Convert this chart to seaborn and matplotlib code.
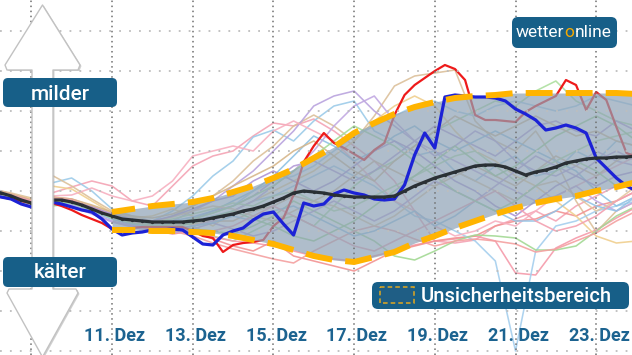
import numpy as np
import pandas as pd
import matplotlib
matplotlib.use("Agg")
import matplotlib.pyplot as plt
import seaborn as sns
from matplotlib.patches import FancyBboxPatch, Polygon, Rectangle
from matplotlib.transforms import blended_transform_factory

sns.set_theme(style="white")
plt.rcParams["font.family"] = ["Roboto", "DejaVu Sans"]

# ---------------- data ----------------
# time axis in days of December (6-hourly for the main runs, 12-hourly for members)
t6 = np.arange(8, 24.001, 0.25)
t12 = np.arange(8, 24.001, 0.5)
t_band = np.arange(11, 24.001, 0.5)

mean_run = [0.1, -0.2, -0.5, -0.9, -1.2, -1.0, -0.9, -0.9, -1.1, -1.4,
            -1.8, -2.2, -2.5, -2.8, -2.9, -3.0, -3.1, -3.1, -3.1, -3.1,
            -3.0, -2.9, -2.7, -2.5, -2.3, -2.0, -1.8, -1.5, -1.1, -0.7,
            -0.2, 0.0, -0.1, -0.2, -0.4, -0.5, -0.6, -0.6, -0.6, -0.6,
            -0.5, 0.0, 0.5, 0.9, 1.3, 1.6, 1.9, 2.2, 2.5, 2.6,
            2.6, 2.4, 2.0, 1.6, 1.9, 2.1, 2.4, 2.8, 3.0, 3.2,
            3.3, 3.3, 3.4, 3.4, 3.5]

blue_run = [-0.4, -0.6, -0.8, -1.3, -1.6, -1.3, -1.1, -1.3, -1.6, -1.9,
            -2.1, -2.8, -3.8, -4.4, -4.2, -4.1, -3.9, -3.9, -3.8, -3.9,
            -4.6, -5.3, -5.4, -4.4, -4.0, -3.7, -2.9, -2.3, -2.1, -3.3,
            -4.4, -1.2, -1.5, -1.3, -0.3, 0.1, -0.2, -0.4, -0.8, -0.9,
            -0.8, 0.6, 3.6, 5.8, 4.3, 9.4, 9.6, 9.5, 9.4, 9.4,
            9.3, 9.0, 8.2, 7.7, 7.1, 6.1, 6.3, 6.6, 6.3, 5.8,
            3.3, 2.3, 1.3, 0.5, 0.0]

red_run = [-0.4, -0.6, -0.8, -1.0, -1.2, -1.2, -1.2, -1.5, -1.9, -2.4,
           -2.8, -3.2, -3.8, -3.9, -3.7, -3.6, -3.6, -3.6, -3.6, -3.6,
           -4.0, -4.5, -4.7, -6.1, -5.4, -5.2, -5.1, -4.9, -3.5, -2.7,
           -0.4, 2.9, 4.5, 5.8, 4.8, 4.3, 3.7, 3.1, 4.1, 4.8,
           7.6, 9.6, 10.6, 11.3, 12.0, 12.6, 12.2, 11.1, 7.6, 7.1,
           7.1, 7.0, 6.9, 7.9, 8.5, 9.0, 9.5, 11.1, 10.6, 8.1,
           9.9, 9.1, 6.4, 3.8, 3.4]

members = {
    "m01": [0.3, -0.3, -0.9, -0.2, 0.4, 1.0, 0.5, -1.0, -1.5, 0.5, 2.5, 3.5, 4.0, 5.5, 6.8, 6.5, 7.2, 6.0, 4.5, 3.0, 1.0, -2.0, -5.0, -5.2, -4.9, -3.5, -2.8, -2.0, -3.0, -1.5, -0.5, 0.5, 1.0],
    "m02": [0.1, -0.4, -1.0, 0.8, 1.3, 0.0, -1.8, -2.5, -3.0, -2.0, -0.5, 1.5, 3.0, 5.4, 6.1, 5.0, 7.0, 8.5, 9.0, 6.0, 5.0, 3.5, 4.0, 2.0, 1.0, 2.5, 3.5, 1.5, 2.0, 4.0, 3.0, 5.0, 4.5],
    "m03": [0.2, -0.2, -0.7, 1.6, 0.5, -0.8, -2.0, -2.8, -3.2, -2.5, -1.5, -0.5, 1.0, 3.0, 4.5, 6.5, 7.6, 6.5, 5.0, 7.5, 10.5, 11.5, 11.8, 12.1, 7.0, 5.0, 4.0, 6.0, 3.0, -1.0, -4.1, -2.0, -1.0],
    "m04": [0.0, -0.6, -1.5, -0.8, -1.2, -2.0, -2.8, -3.2, -3.5, -4.0, -3.5, -4.5, -5.0, -4.0, -3.0, -2.5, -3.5, -1.5, 0.5, 2.0, 3.0, 4.5, 6.0, 7.0, 8.0, 9.0, 8.5, 10.0, 11.0, 9.0, 8.0, 7.0, 6.5],
    "m05": [0.0, -0.5, -1.2, -1.0, -1.5, -2.2, -3.0, -3.5, -3.8, -3.0, -2.0, -1.0, 0.5, 2.0, 4.0, 6.0, 8.5, 9.5, 10.0, 8.0, 6.5, 5.0, 3.5, 4.5, 6.0, 5.0, 3.0, 2.0, 1.5, 2.5, 4.0, 3.0, 2.5],
    "m06": [0.1, -0.5, -1.2, -0.9, -1.0, -1.6, -2.3, -3.0, -3.4, -3.8, -4.2, -4.6, -5.0, -5.2, -5.5, -6.0, -6.5, -6.8, -7.0, -6.5, -6.0, -5.4, -5.0, -4.8, -4.5, -5.0, -8.2, -8.4, -5.7, -4.7, -3.9, -2.7, -1.6],
    "m07": [0.2, -0.4, -1.0, -0.6, -0.8, -1.5, -2.6, -3.4, -3.9, -4.3, -4.0, -4.8, -5.5, -6.0, -5.0, -6.5, -7.0, -7.5, -8.0, -7.0, -6.0, -5.5, -5.0, -4.7, -4.5, -3.5, -3.0, -2.8, -2.0, -2.5, -1.5, -1.0, 0.0],
    "m08": [0.0, -0.5, -1.1, -0.7, -1.0, -1.7, -2.4, -2.9, -3.3, -3.6, -3.0, -2.5, -2.0, -1.0, -0.5, 0.5, 1.5, 2.5, 1.5, 0.5, -1.0, -2.5, -3.0, -4.0, -5.0, -7.0, -16.0, -6.0, -3.5, -3.0, -2.0, -1.5, -1.0],
    "m09": [0.2, -0.3, -0.8, 0.5, 0.2, -1.0, -2.2, -2.7, -2.5, -1.8, -2.5, -3.5, -2.0, -1.0, 0.0, 1.0, 2.0, 3.5, 5.0, 7.0, 8.5, 9.5, 8.5, 6.0, 4.0, 3.0, 1.5, 0.5, -1.0, -2.5, -4.5, -5.2, -5.0],
    "m10": [0.0, -0.7, -1.6, -1.5, -1.3, -1.9, -2.7, -3.1, -3.3, -3.5, -3.8, -4.0, -4.3, -3.5, -2.5, -1.0, -2.0, -3.0, -4.0, -5.0, -6.5, -6.9, -6.0, -5.0, -4.4, -4.5, -4.7, -5.9, -5.9, -5.5, -4.0, -2.5, -1.5],
    "m11": [0.1, -0.4, -1.3, -1.1, -1.2, -2.0, -2.7, -3.3, -3.6, -3.2, -2.8, -2.0, -1.5, -0.5, 1.0, 2.5, 3.0, 2.0, 1.0, 2.0, 3.5, 5.0, 6.5, 5.5, 4.5, 3.5, 5.0, 6.5, 7.0, 6.0, 5.5, 7.0, 6.0],
    "m12": [0.2, -0.3, -0.9, -0.5, -0.4, 0.3, -0.5, -1.0, -0.5, 1.0, 3.5, 4.0, 4.5, 4.0, 6.0, 7.0, 6.0, 5.0, 3.0, 1.0, -1.0, -2.0, -3.5, -4.5, -4.0, -3.0, -3.5, -2.0, -0.5, 0.5, 1.5, 2.5, 3.5],
    "m13": [0.1, -0.6, -1.2, -1.0, -1.3, -2.0, -2.6, -3.0, -3.3, -3.0, -2.6, -2.0, -1.0, 0.0, 1.5, 3.5, 5.5, 4.5, 3.0, 4.0, 5.5, 6.5, 5.0, 4.0, 5.0, 6.0, 5.0, 4.0, 3.0, 2.0, 0.0, -1.5, -0.5],
    "m14": [0.0, -0.5, -1.1, -0.9, -1.1, -1.8, -2.5, -3.0, -3.2, -3.4, -3.3, -3.0, -3.0, -2.0, -1.5, -0.5, -1.0, 0.0, 1.5, 3.0, 2.0, 1.0, 0.5, 1.5, 2.5, 1.5, 0.5, 2.0, 3.5, 2.5, 1.5, 3.0, 4.0],
    "m15": [0.0, -0.6, -1.3, -1.2, -1.4, -2.1, -2.8, -3.4, -3.6, -3.9, -3.5, -3.0, -2.0, -1.0, 0.5, 2.0, 4.0, 6.5, 8.5, 9.5, 7.0, 5.0, 4.0, 3.0, 2.0, 1.0, 0.0, -1.0, -0.5, 0.5, -1.0, -2.0, -1.0],
    "m16": [0.1, -0.5, -1.0, -0.7, -1.1, -1.7, -2.4, -2.8, -3.1, -2.8, -2.3, -1.8, -1.2, -1.5, -0.5, 0.0, -1.0, -2.0, -1.5, -0.5, 0.5, 1.5, 2.5, 3.5, 4.0, 2.5, 1.0, 2.0, 3.0, 4.0, 5.0, 5.5, 6.0],
    "m17": [0.1, -0.4, -1.1, -0.8, -1.0, -1.6, -2.4, -3.2, -3.6, -4.0, -4.5, -5.2, -5.8, -6.3, -6.8, -7.2, -6.0, -5.0, -4.0, -3.5, -4.0, -4.8, -5.5, -5.0, -4.8, -5.0, -5.3, -6.1, -5.8, -5.0, -4.2, -3.0, -2.0],
    "m18": [0.0, -0.5, -1.0, -0.9, -1.2, -1.9, -2.6, -3.1, -3.4, -3.2, -2.8, -2.2, -1.5, 0.0, 1.0, 1.5, 2.5, 4.0, 5.5, 6.5, 7.5, 8.5, 9.0, 8.0, 7.5, 8.5, 9.0, 8.5, 8.0, 8.5, 9.5, 9.0, 8.5],
    "m19": [0.1, -0.4, -1.0, -0.6, -0.9, -1.5, -2.2, -2.6, -3.0, -2.6, -2.0, -1.5, -1.8, -2.5, -3.0, -2.0, -1.0, -1.5, -2.5, -3.5, -2.5, -1.0, 0.5, 2.0, 1.0, 0.0, -1.0, 0.5, 1.0, -0.5, -2.0, -1.0, 0.5],
    "m20": [0.0, -0.6, -1.4, -1.3, -1.5, -2.3, -3.1, -3.6, -4.0, -4.2, -3.8, -3.2, -3.8, -4.5, -4.0, -3.0, -2.0, -1.0, -2.0, -3.0, -2.0, -0.5, 1.0, 0.0, -1.0, 0.5, 2.0, 3.5, 2.5, 1.5, 3.0, 4.0, 3.0],
    "m21": [0.1, -0.5, -1.1, -0.8, -1.1, -1.8, -2.6, -3.0, -3.4, -3.6, -3.2, -2.6, -2.0, -2.8, -3.5, -4.5, -5.0, -4.0, -3.0, -1.5, 0.0, 1.5, 3.0, 4.5, 3.0, 1.5, 2.5, 4.0, 5.5, 6.5, 7.5, 6.5, 5.0],
    "m22": [0.0, -0.4, -1.0, -0.8, -1.0, -1.6, -2.3, -2.8, -3.0, -2.5, -1.8, -1.0, -0.5, 1.0, 2.0, 1.0, 0.0, 1.0, 2.5, 4.0, 5.0, 4.0, 2.5, 1.0, 0.0, -1.5, -2.5, -1.0, 0.5, 1.5, 0.5, 1.5, 2.0],
    "m23": [0.1, -0.5, -1.2, -1.1, -1.2, -2.0, -2.8, -3.3, -3.6, -3.8, -3.5, -3.2, -2.5, -3.0, -2.0, -1.5, -2.5, -3.5, -4.5, -4.0, -3.0, -2.0, -3.5, -2.5, -1.0, -2.0, -3.0, -3.0, -2.0, -0.5, -1.5, -2.0, -0.5],
    "m24": [0.2, -0.3, -0.9, -0.6, -0.8, -1.4, -2.1, -2.5, -2.7, -2.3, -1.5, -0.5, 0.5, 1.5, 2.5, 4.0, 5.0, 3.5, 2.0, 1.0, 3.0, 4.5, 6.0, 7.5, 6.5, 5.5, 6.5, 7.5, 6.5, 5.5, 6.0, 5.0, 4.5],
    "m25": [0.1, -0.4, -1.0, -0.7, -0.9, -1.7, -2.5, -3.1, -3.5, -3.9, -4.2, -4.0, -3.5, -2.5, -1.5, -2.5, -3.5, -4.5, -5.5, -6.0, -5.0, -4.0, -3.0, -2.0, -1.0, 0.0, -1.5, -3.0, -4.0, -3.5, -2.5, -1.0, 0.0],
    "m26": [0.0, -0.6, -1.3, -1.0, -1.2, -1.9, -2.7, -3.2, -3.5, -3.3, -2.8, -2.2, -1.5, -0.5, 0.5, 2.0, 3.5, 5.0, 6.5, 5.5, 4.5, 3.0, 1.5, 0.0, -1.0, -2.0, -1.0, 0.5, 2.0, 3.0, 2.0, 0.5, 1.0],
}

member_colors = {
    "m01": "#f4a3b4", "m02": "#9ccbe9", "m03": "#dcc09a", "m04": "#addf9f",
    "m05": "#b9a3de", "m06": "#f59aaa", "m07": "#f29393", "m08": "#a5cfee",
    "m09": "#f0cf8e", "m10": "#a3d994", "m11": "#b49ad8", "m12": "#f7b0c0",
    "m13": "#8fc2e4", "m14": "#d8b991", "m15": "#c1a8e2", "m16": "#b4e2a5",
    "m17": "#f4a0a0", "m18": "#a8d2ee", "m19": "#e3c7a1", "m20": "#bba2dc",
    "m21": "#9fd88f", "m22": "#ad94d6", "m23": "#94c4e6", "m24": "#d6b68a",
    "m25": "#f3a0b0", "m26": "#a6dc98",
}

band_upper = [-2.1, -1.8, -1.5, -1.3, -1.1, -0.7, -0.1, 0.5, 1.3, 2.2,
              3.3, 4.4, 5.8, 6.8, 7.7, 8.4, 8.9, 9.3, 9.5, 9.6,
              9.8, 9.8, 9.8, 9.8, 9.8, 9.8, 9.7]
band_lower = [-3.9, -3.9, -4.0, -4.0, -4.1, -4.2, -4.5, -4.9, -5.3, -5.9,
              -6.5, -6.9, -7.1, -6.6, -6.1, -5.2, -4.5, -3.7, -3.0, -2.3,
              -1.7, -1.2, -0.8, -0.5, 0.0, 0.4, 0.9]

tick_days = [11, 13, 15, 17, 19, 21, 23]
tick_labels = ["11. Dez", "13. Dez", "15. Dez", "17. Dez", "19. Dez", "21. Dez", "23. Dez"]
grid_days = [9, 11, 13, 15, 17, 19, 21, 23]
grid_levels = [-16, -12, -8, -4, 0, 4, 8, 12, 16]

BOX = "#175f88"
W, H = 632, 355

# ---------------- figure ----------------
fig = plt.figure(figsize=(W / 100, H / 100), dpi=100)
ax = fig.add_axes([0, 0, 1, 1])
ax.set_xlim(8.224, 23.887)
ax.set_ylim(-16.4, 19.1)
for s in ax.spines.values():
    s.set_visible(False)
ax.set_xticks([])
ax.set_yticks([])

# dotted grid
for d in grid_days:
    ax.axvline(d, color="#6f6f6f", lw=1.1, ls=(0, (1, 2.3)), zorder=4.5)
for g in grid_levels:
    ax.axhline(g, color="#bdbdbd", lw=1.3, ls=(0, (1, 4.5)), zorder=4.5)

# ensemble members
long = pd.DataFrame({
    "day": np.tile(t12, len(members)),
    "value": np.concatenate([members[k] for k in members]),
    "member": np.repeat(list(members.keys()), len(t12)),
})
sns.lineplot(data=long, x="day", y="value", hue="member", palette=member_colors,
             estimator=None, legend=False, linewidth=1.15, alpha=0.9, zorder=1, ax=ax)

# red run (under the band)
sns.lineplot(x=t6, y=red_run, color="#ee1a1a", linewidth=1.6, zorder=3, ax=ax)

# uncertainty band
ax.fill_between(t_band, band_lower, band_upper, color="#8ea2b5", alpha=0.7, lw=0, zorder=4)

# blue run and ensemble mean
sns.lineplot(x=t6, y=blue_run, color="#1c22d6", linewidth=2.3, zorder=5, ax=ax)
sns.lineplot(x=t6, y=mean_run, color="#2a3035", linewidth=2.3, marker="o",
             markersize=2.4, markeredgewidth=0, zorder=6, ax=ax)

# dashed band borders
for edge in (band_upper, band_lower):
    ax.plot(t_band, edge, color="#ffb400", lw=4.3, ls=(0.6, (4.5, 2.2)),
            dash_capstyle="butt", zorder=7)

# x labels inside the plot
trans = blended_transform_factory(ax.transData, ax.transAxes)
for d, lab in zip(tick_days, tick_labels):
    ax.text(d + 0.07, 1 - 341 / H, lab, transform=trans, ha="center", va="baseline",
            fontsize=13, fontweight="bold", color="#1c6390", zorder=8)

# ---------------- overlay (pixel coordinates) ----------------
ov = fig.add_axes([0, 0, 1, 1], zorder=10)
ov.set_xlim(0, W)
ov.set_ylim(H, 0)
ov.axis("off")
ov.patch.set_alpha(0)

arrow_pts = [(42.5, 5), (80, 65), (78, 70), (53, 70), (53, 289), (76, 289), (78, 293),
             (42.5, 357), (7, 293), (9, 289), (32, 289), (32, 70), (7, 70), (5, 65)]
shadow = Polygon([(x + 1.5, y + 1.0) for x, y in arrow_pts], closed=True,
                 fc="#9a9a9a", ec="none", alpha=0.45, joinstyle="round")
ov.add_patch(shadow)
ov.add_patch(Polygon(arrow_pts, closed=True, fc="white", ec="#c2c2c2", lw=1.0,
                     joinstyle="round"))

def rbox(x, y, w, h, r=5, fc=BOX):
    ov.add_patch(FancyBboxPatch((x, y), w, h, boxstyle=f"round,pad=0,rounding_size={r}",
                                fc=fc, ec="none"))

rbox(3, 78, 114, 29)
ov.text(60, 99.5, "milder", color="white", fontsize=15, fontweight="medium",
        ha="center", va="baseline")
rbox(3, 257, 114, 30)
ov.text(60, 278, "kälter", color="white", fontsize=15, fontweight="medium",
        ha="center", va="baseline")

# legend box
rbox(372, 282, 257, 27, r=6)
ov.add_patch(Rectangle((380, 287), 34, 16, fc="#1f5e85", ec="#e0a820", lw=1.1,
                       ls=(0, (3, 2))))
ov.text(421, 302, "Unsicherheitsbereich", color="white", fontsize=14.5,
        fontweight="medium", ha="left", va="baseline")

# logo
rbox(512, 17, 105, 31, r=6)
t1 = ov.text(516, 37, "wetter", color="white", fontsize=12.5, ha="left", va="baseline")
t2 = ov.annotate("o", xy=(1, 0), xycoords=t1, color="#f5a800", fontsize=12.5,
                 ha="left", va="bottom")
ov.annotate("nline", xy=(1, 0), xycoords=t2, color="white", fontsize=12.5,
            ha="left", va="bottom")

fig.savefig("out.png", dpi=100)
